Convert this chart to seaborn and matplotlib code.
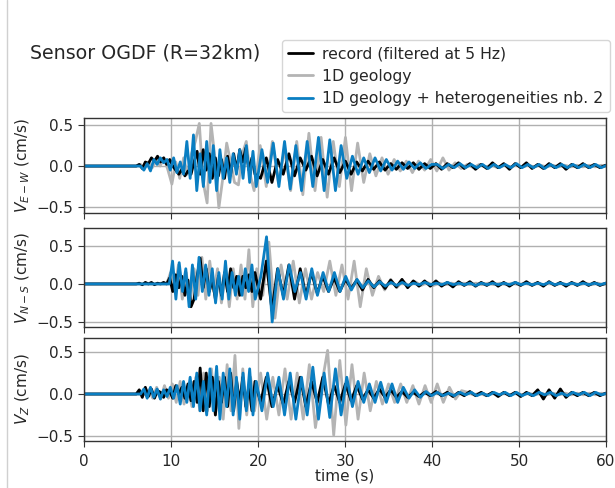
import numpy as np
import pandas as pd
import matplotlib
matplotlib.use('Agg')
import matplotlib.pyplot as plt
import seaborn as sns
from matplotlib.lines import Line2D

# ------------------------------
# Picked amplitudes (cm/s): an early part (onset -> ~20 s) sampled finely,
# then a late part (~20 s -> 60 s) sampled more coarsely
# ------------------------------
trace_names = ['record (filtered at 5 Hz)', '1D geology', '1D geology + heterogeneities nb. 2']
trace_colors = ['black', '#b4b4b4', '#0a7ec2']
onsets = {'ew': [6.0, 6.5, 6.5], 'ns': [6.0, 9.5, 9.8], 'z': [6.0, 7.0, 6.5]}
steps_early = [0.35, 0.45, 0.38]
steps_late = [0.65, 0.7, 0.65]

# E-W
ew_rec = [0, 0.02, -0.03, 0.05, 0.03, 0.1, 0.06, 0.12, 0.05, 0.1, 0.02, 0.08, 0.0,
          -0.05, -0.1, -0.04, -0.12, -0.06, -0.1, 0.05, 0.18, -0.1, 0.2, -0.05,
          0.15, -0.15, 0.1, -0.12, 0.08, -0.15, 0.12, -0.1, 0.15, -0.05, 0.2,
          0.05, 0.22, -0.05, 0.1, -0.1]
ew_rec_late = [-0.15, 0.1, -0.2, 0.08, -0.1, 0.15, -0.12, 0.1, -0.05, 0.12, -0.12, 0.08, -0.1, 0.1, -0.08, 0.06,
               -0.1, 0.05, -0.06, 0.06, -0.04, 0.05, -0.05, 0.03, -0.04, 0.04, -0.03, 0.04, -0.04, 0.03, -0.03,
               0.03, -0.04, 0.03, -0.02, 0.04, -0.03, 0.03, -0.04, 0.02, -0.03, 0.04, -0.02, 0.03, -0.04, 0.03,
               -0.02, 0.04, -0.03, 0.02, -0.03, 0.03, -0.02, 0.03, -0.04, 0.02, -0.02, 0.03, -0.02, 0.02, -0.02, 0.01, -0.01]
ew_1d = [0.02, -0.03, 0.05, -0.02, 0.08, 0.0, 0.1, -0.05, -0.22, 0.05, -0.15, 0.1, -0.1, 0.15, 0.3,
         0.52, -0.2, -0.45, 0.52, 0.1, -0.51, -0.15, 0.28, 0.05, -0.2, -0.23, 0.15, 0.3, -0.1, -0.3]
ew_1d_late = [0.25, -0.25, 0.3, -0.2, 0.2, -0.3, 0.3, -0.35, 0.4, -0.3, 0.35, -0.38, 0.3, -0.25, 0.35,
              -0.3, 0.28, -0.2, 0.15, -0.12, 0.1, -0.1, 0.08, -0.06, 0.06, -0.08, 0.06, -0.05, 0.08,
              -0.06, 0.1, -0.05, 0.04, -0.03, 0.02, -0.02, 0.02, -0.01, 0.01, -0.02, 0.01, -0.01, 0.01,
              -0.01, 0.01, -0.01, 0.01, -0.01, 0.01, -0.01, 0.01, -0.01, 0.01, -0.01, 0.01, -0.01, 0.01, -0.01]
ew_het = [0.0, -0.05, 0.03, -0.06, 0.08, 0.02, 0.1, 0.04, 0.08, -0.05, 0.1, -0.08, 0.05, -0.1,
          0.3, -0.15, 0.38, -0.3, 0.15, -0.25, 0.3, -0.2, 0.25, -0.3, 0.2, -0.15, 0.1, -0.2,
          0.15, -0.1, 0.2, -0.15, 0.25, -0.2, 0.18, -0.25]
ew_het_late = [0.2, -0.2, 0.28, -0.25, 0.3, -0.28, 0.25, -0.3, 0.3, -0.25, 0.35, -0.3, 0.32, -0.3, 0.25, -0.15,
               0.12, -0.1, 0.1, -0.08, 0.1, -0.06, 0.08, -0.05, 0.06, -0.04, 0.05, -0.03, 0.04, -0.03, 0.02,
               0.02, -0.03, 0.02, -0.02, 0.03, -0.02, 0.02, -0.02, 0.02, -0.03, 0.02, -0.02, 0.02, -0.02, 0.03,
               -0.02, 0.02, -0.02, 0.02, -0.03, 0.02, -0.02, 0.02, -0.02, 0.02, -0.02, 0.02, -0.02, 0.02, -0.02, 0.01, -0.01]

# N-S
ns_rec = [0.0, 0.01, -0.01, 0.02, 0.0, 0.02, -0.01, 0.01, 0.0, 0.02, 0.0,
          0.08, -0.1, 0.12, -0.05, 0.1, -0.15, 0.05, -0.3, -0.2, 0.1, 0.34, -0.05, 0.2, -0.1,
          0.05, -0.2, 0.1, -0.15, 0.15, -0.1, 0.2, -0.05, 0.1, -0.15, 0.1, -0.05, 0.12, -0.1, 0.15]
ns_rec_late = [-0.2, 0.3, -0.35, 0.2, -0.15, 0.25, -0.2, 0.2, -0.15, 0.15, -0.12, 0.1, -0.1, 0.08, -0.1, 0.06,
               -0.06, 0.05, -0.08, 0.06, -0.05, 0.04, -0.06, 0.05, -0.04, 0.06, -0.05, 0.04, -0.03, 0.04, -0.03,
               0.04, -0.03, 0.02, -0.04, 0.03, -0.02, 0.03, -0.03, 0.02, -0.02, 0.03, -0.03, 0.02, -0.03, 0.02,
               -0.02, 0.03, -0.02, 0.02, -0.03, 0.03, -0.02, 0.02, -0.03, 0.02, -0.02, 0.03, -0.02, 0.02, -0.02, 0.01, -0.01]
ns_1d = [0.0, 0.15, -0.1, 0.25, -0.2, 0.15, -0.25, 0.2, -0.15, 0.35, -0.2, 0.3, -0.1, 0.2,
         -0.25, 0.15, -0.3, 0.2, -0.2, 0.25, -0.2, 0.45, -0.3, 0.2]
ns_1d_late = [-0.15, 0.55, -0.45, 0.25, -0.2, 0.3, -0.25, 0.2, -0.2, 0.15, -0.1, 0.3, -0.15, 0.25, -0.2,
              0.3, -0.3, 0.2, -0.15, 0.1, -0.08, 0.06, -0.05, 0.04, -0.03, 0.03, -0.02, 0.02, -0.02,
              0.01, -0.01, 0.01, -0.01, 0.01, -0.01, 0.01, -0.01, 0.01, -0.01, 0.01, -0.01, 0.01, -0.01,
              0.01, -0.01, 0.01, -0.01, 0.01, -0.01, 0.01, -0.01, 0.01, -0.01, 0.01, -0.01, 0.01, -0.01, 0.01]
ns_het = [0.0, 0.3, -0.2, 0.28, -0.1, 0.2, -0.3, 0.25, -0.2, 0.35, -0.1, 0.25, -0.15, 0.2,
          -0.25, 0.15, -0.2, 0.3, -0.2, 0.15, -0.15, 0.1, -0.15, 0.2, -0.1, 0.25, -0.2]
ns_het_late = [0.1, 0.62, -0.5, 0.2, -0.2, 0.25, -0.1, 0.15, -0.2, 0.2, -0.15, 0.15, -0.1, 0.15, -0.1, 0.1,
               -0.08, 0.06, -0.05, 0.04, -0.04, 0.03, -0.03, 0.02, -0.02, 0.02, -0.02, 0.01, -0.01, 0.02, -0.01,
               0.01, -0.01, 0.02, -0.01, 0.01, -0.01, 0.01, -0.02, 0.01, -0.01, 0.01, -0.01, 0.01, -0.01, 0.02,
               -0.01, 0.01, -0.01, 0.01, -0.01, 0.02, -0.01, 0.01, -0.01, 0.01, -0.01, 0.01, -0.01, 0.01, -0.01, 0.01, -0.01]

# Z
z_rec = [0.0, 0.05, -0.04, 0.08, -0.03, 0.06, -0.05, 0.04, 0.02, -0.04, 0.05,
         0.03, -0.05, 0.1, 0.0, 0.08, -0.05, 0.12, -0.08, 0.15, -0.1, 0.31, -0.2, 0.25, -0.15,
         0.2, -0.25, 0.15, -0.1, 0.2, -0.15, 0.25, -0.2, 0.15, -0.1, 0.2, -0.15, 0.1, -0.2, 0.15]
z_rec_late = [-0.1, 0.2, -0.15, 0.1, -0.12, 0.15, -0.1, 0.2, -0.15, 0.15, -0.1, 0.2, -0.12, 0.1, -0.1, 0.12,
              -0.08, 0.1, -0.06, 0.05, -0.05, 0.06, -0.04, 0.05, -0.04, 0.03, -0.04, 0.02, -0.03, 0.02, -0.02,
              0.03, -0.02, 0.02, -0.03, 0.02, -0.02, 0.03, -0.02, 0.02, -0.02, 0.02, -0.03, 0.02, -0.02, 0.02,
              -0.03, 0.02, -0.02, 0.05, -0.06, 0.05, -0.05, 0.06, -0.04, 0.02, -0.02, 0.02, -0.02, 0.02, -0.02, 0.01, -0.01]
z_1d = [0.0, 0.05, -0.05, 0.08, -0.06, 0.1, -0.05, 0.12, -0.1, 0.15, -0.12, 0.1, -0.15, 0.2,
        -0.2, 0.25, -0.2, 0.3, -0.25, 0.2, -0.3, 0.35, -0.2, 0.46, -0.41, 0.3, -0.25, 0.2, -0.2]
z_1d_late = [0.25, -0.3, 0.2, -0.25, 0.3, -0.3, 0.25, -0.3, 0.35, -0.4, 0.1, 0.52, -0.49, 0.4, -0.37,
             0.35, -0.3, 0.25, -0.2, 0.15, -0.12, 0.12, -0.1, 0.12, -0.1, 0.1, -0.12, 0.1, -0.1, 0.12,
             -0.1, 0.08, -0.06, 0.04, 0.02, -0.01, 0.01, -0.02, 0.01, -0.01, 0.01, -0.01, 0.01, -0.01,
             0.01, -0.01, 0.01, -0.01, 0.01, -0.01, 0.01, -0.01, 0.01, -0.01, 0.01, -0.01, 0.01, -0.01]
z_het = [0.0, 0.06, -0.05, 0.08, -0.04, 0.06, -0.06, 0.05, -0.03, 0.08, -0.05, 0.1, -0.12, 0.15,
         -0.1, 0.2, -0.15, 0.25, -0.2, 0.15, -0.25, 0.3, -0.2, 0.33, -0.3, 0.25, -0.15, 0.3,
         -0.25, 0.2, -0.3, 0.25, -0.2, 0.3, -0.25, 0.15]
z_het_late = [-0.2, 0.25, -0.15, 0.2, -0.25, 0.25, -0.3, 0.2, -0.25, 0.32, -0.3, 0.25, -0.28, 0.3, -0.25, 0.2,
              -0.15, 0.15, -0.1, 0.12, -0.1, 0.14, -0.1, 0.12, -0.1, 0.08, -0.05, 0.05, -0.04, 0.03, -0.02,
              0.02, -0.02, 0.01, -0.02, 0.02, -0.01, 0.02, -0.02, 0.01, -0.02, 0.02, -0.01, 0.02, -0.02, 0.02,
              -0.02, 0.01, -0.02, 0.02, -0.01, 0.02, -0.02, 0.01, -0.02, 0.02, -0.01, 0.02, -0.02, 0.02, -0.01, 0.01, -0.01]

panels = [
    ('ew', r'$V_{E-W}$ (cm/s)', [(ew_rec, ew_rec_late), (ew_1d, ew_1d_late), (ew_het, ew_het_late)]),
    ('ns', r'$V_{N-S}$ (cm/s)', [(ns_rec, ns_rec_late), (ns_1d, ns_1d_late), (ns_het, ns_het_late)]),
    ('z', r'$V_{Z}$ (cm/s)', [(z_rec, z_rec_late), (z_1d, z_1d_late), (z_het, z_het_late)]),
]


def build_trace(onset, dt_early, early, dt_late, late):
    t_early = onset + dt_early * np.arange(len(early))
    t_late = t_early[-1] + dt_late * np.arange(1, len(late) + 1)
    t = np.concatenate([[0.0, onset - dt_early], t_early, t_late])
    v = np.concatenate([[0.0, 0.0], early, late])
    return pd.DataFrame({'time': t, 'vel': v})


# ------------------------------
# Plot
# ------------------------------
sns.set_style('ticks', {'axes.grid': True, 'grid.color': '#b0b0b0', 'axes.edgecolor': '#333333'})
plt.rcParams['font.family'] = ['DejaVu Sans']

fig = plt.figure(figsize=(6.15, 4.88), dpi=100)
rects = [[0.1366, 0.5635, 0.8488, 0.1945],
         [0.1366, 0.330, 0.8488, 0.203],
         [0.1366, 0.0963, 0.8488, 0.211]]
ylims = [(-0.573, 0.585), (-0.566, 0.737), (-0.56, 0.667)]

for i, (key, ylabel, traces) in enumerate(panels):
    ax = fig.add_axes(rects[i])
    for j in [1, 0, 2]:  # grey underneath, record, then heterogeneous model on top
        early, late = traces[j]
        df = build_trace(onsets[key][j], steps_early[j], early, steps_late[j], late)
        sns.lineplot(data=df, x='time', y='vel', ax=ax, color=trace_colors[j],
                     lw=2.0, estimator=None, sort=False)
    ax.set_xlim(0, 60)
    ax.set_ylim(*ylims[i])
    ax.set_yticks([-0.5, 0.0, 0.5])
    ax.set_xticks([0, 10, 20, 30, 40, 50, 60])
    ax.grid(True, color='#b0b0b0', lw=1)
    for side in ['left', 'right', 'top', 'bottom']:
        ax.spines[side].set_visible(True)
        ax.spines[side].set_color('#333333')
        ax.spines[side].set_linewidth(1.0)
    ax.tick_params(labelsize=11, length=4, color='#333333')
    ax.tick_params(axis='x', pad=5)
    ax.set_ylabel(ylabel, fontsize=11)
    ax.yaxis.set_label_coords(-0.1, 0.5)
    if i < 2:
        ax.tick_params(labelbottom=False)
        ax.set_xlabel('')
    else:
        ax.set_xlabel('time (s)', fontsize=11, labelpad=0)

handles = [Line2D([], [], color=c, lw=2.0) for c in trace_colors]
fig.legend(handles, trace_names, loc='upper right', bbox_to_anchor=(0.997, 0.925),
           fontsize=11.3, frameon=True, handlelength=1.6, borderaxespad=0.2,
           labelspacing=0.48, borderpad=0.4, handletextpad=0.6)
fig.text(30 / 615, 1 - 53 / 488, 'Sensor OGDF (R=32km)', fontsize=13.7, va='center')
fig.add_artist(Line2D([7 / 615, 7 / 615], [0, 1], color='#d0d0d0', lw=1))

fig.savefig('out.png', dpi=100)
